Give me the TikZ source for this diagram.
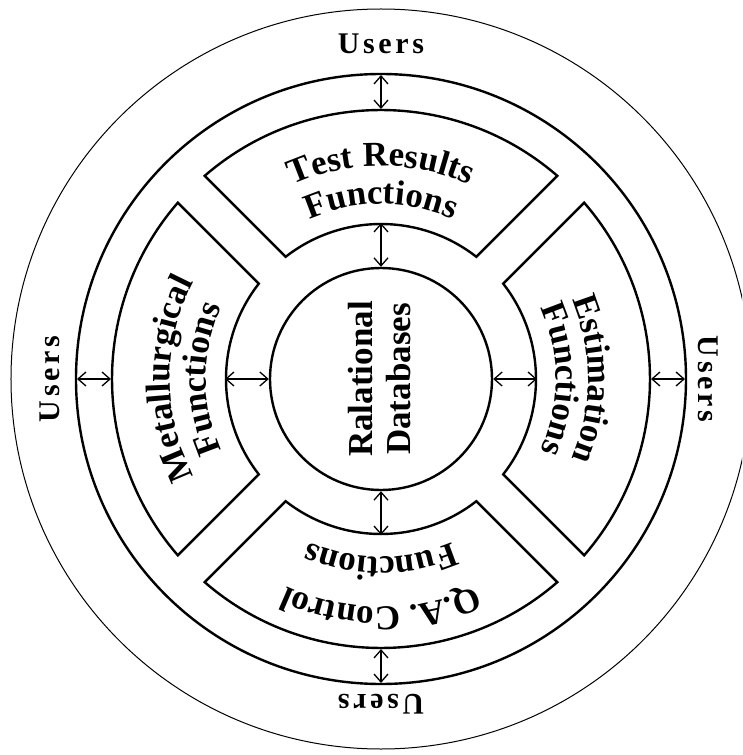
\documentclass[tikz,border=0pt]{standalone}
\usepackage{fontspec}
\setmainfont{Liberation Serif}
\newfontfamily\usersfont{Liberation Serif}[LetterSpace=12]
\usetikzlibrary{arrows.meta, decorations.text}

\tikzset{
  ring/.style={line width=2.4pt},
  outerring/.style={line width=1pt},
  sector/.style={line width=2.4pt, line join=miter},
  link/.style={line width=1.3pt, {Straight Barb[length=8pt,width=14pt]}-{Straight Barb[length=8pt,width=14pt]}},
  users/.style={font=\usersfont\bfseries\fontsize{30}{33}\selectfont, inner sep=0pt},
  dbtext/.style={font=\bfseries\fontsize{35}{38}\selectfont, align=center, inner sep=0pt},
}
\newcommand{\labfont}{\bfseries\fontsize{35}{38}\selectfont}

\begin{document}
\begin{tikzpicture}[x=1pt, y=1pt]

\clip (-381,-376) rectangle (361,379);

%// rings
\draw[outerring] (0,0) circle[radius=370];
\draw[ring] (0,0) circle[radius=305];

%// the four function blocks, gaps of 2*19 along the diagonals
\pgfmathsetmacro{\ao}{45-asin(19/269)}
\pgfmathsetmacro{\ai}{45-asin(19/155)}
\foreach \a in {0,90,180,270}
\draw[sector] ({\a-\ao}:269) arc[start angle={\a-\ao}, end angle={\a+\ao}, radius=269]
  -- ({\a+\ai}:155) arc[start angle={\a+\ai}, end angle={\a-\ai}, radius=155] -- cycle;

%// centre
\node[circle, draw, line width=2.4pt, minimum size=222pt, inner sep=0pt] (db) at (0,0) {};
\node[dbtext, rotate=90] (dblabel) at (-1,0) {Ralational\\Databases};

%// block labels
\path[decorate, decoration={text along path, text align=center, text={|\labfont|Test Results}}]
  (130:213) arc[start angle=130, end angle=50, radius=213];
\path[decorate, decoration={text along path, text align=center, text={|\labfont|Functions}}]
  (130:175) arc[start angle=130, end angle=50, radius=175];

\path[decorate, decoration={text along path, text align=center, text={|\labfont|Metallurgical}}]
  (220:211) arc[start angle=220, end angle=140, radius=211];
\path[decorate, decoration={text along path, text align=center, text={|\labfont|Functions}}]
  (220:175) arc[start angle=220, end angle=140, radius=175];

\path[decorate, decoration={text along path, text align=center, text={|\labfont|Estimation}}]
  (40:207) arc[start angle=40, end angle=-40, radius=207];
\path[decorate, decoration={text along path, text align=center, text={|\labfont|Functions}}]
  (40:175) arc[start angle=40, end angle=-40, radius=175];

\path[decorate, decoration={text along path, text align=center, text={|\labfont|Q.A. Control}}]
  (-50:228) arc[start angle=-50, end angle=-130, radius=228];
\path[decorate, decoration={text along path, text align=center, text={|\labfont|Functions}}]
  (-50:178) arc[start angle=-50, end angle=-130, radius=178];

%// users
\node[users] (users-n) at (90:335) {Users};
\node[users, rotate=90] (users-w) at (180:331) {Users};
\node[users, rotate=-90] (users-e) at (0:327) {Users};
\node[users, rotate=180] (users-s) at (270:325) {Users};

%// links
\foreach \a/\n in {90/n,180/w,270/s,0/e}{
  \coordinate (ring-\n) at (\a:304);
  \coordinate (fout-\n) at (\a:270);
  \coordinate (fin-\n) at (\a:156);
  \draw[link] (ring-\n) -- (fout-\n);
  \draw[link] (fin-\n) -- (db.\a);
}

\end{tikzpicture}
\end{document}
